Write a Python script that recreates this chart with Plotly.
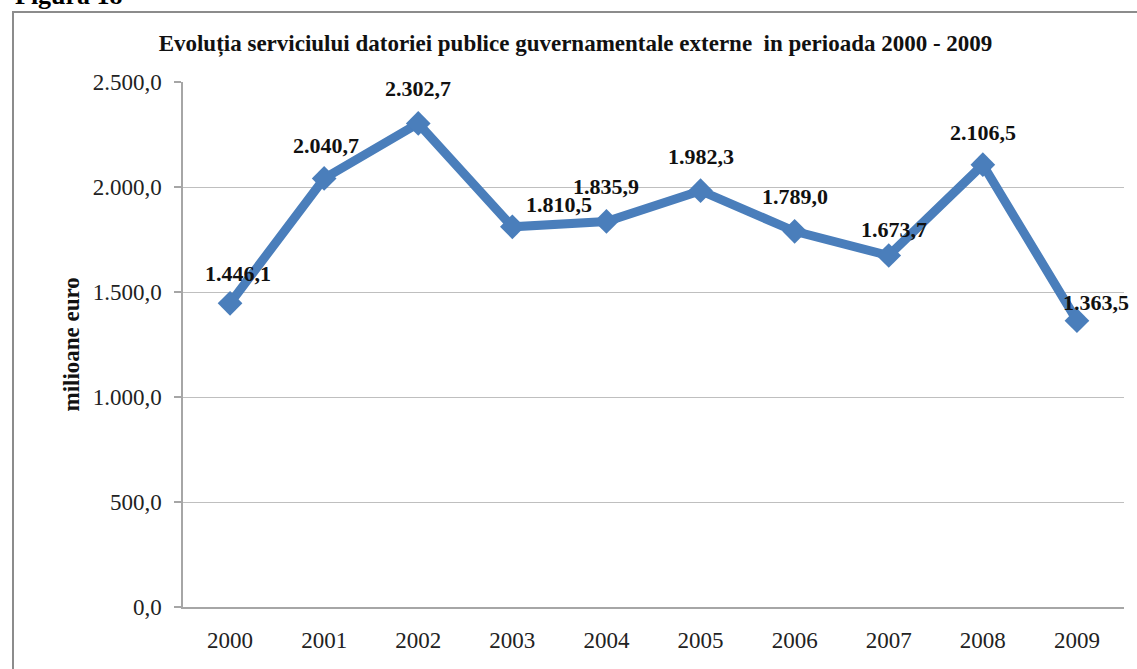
import plotly.graph_objects as go

# Serviciul datoriei publice guvernamentale externe, milioane euro
years = ["2000", "2001", "2002", "2003", "2004", "2005", "2006", "2007", "2008", "2009"]
values = [1446.1, 2040.7, 2302.7, 1810.5, 1835.9, 1982.3, 1789.0, 1673.7, 2106.5, 1363.5]
y_ticks = [0, 500, 1000, 1500, 2000, 2500]

# hand-placed label offsets (px) relative to each point
label_dx = [8, 2, 0, 47, 0, 0, 0, 5, 0, 19]
label_dy = [30, 33, 35, 22, 35, 34, 35, 26, 32, 18]

W, H = 1137, 669
ML, MR, MT, MB = 183, 13, 82, 62
PW, PH = W - ML - MR, H - MT - MB

BLUE = "#4A7EBB"
SERIF = "Liberation Serif, Times New Roman, serif"


def ro(v):
    s = f"{v:,.1f}"
    return s.replace(",", "#").replace(".", ",").replace("#", ".")


def px_x(p):
    return (p - ML) / PW


def px_y(p):
    return (H - MB - p) / PH


fig = go.Figure()
fig.add_trace(go.Scatter(
    x=years, y=values, mode="lines+markers",
    line=dict(color=BLUE, width=9),
    marker=dict(symbol="diamond", size=19, color=BLUE),
    hoverinfo="skip", showlegend=False,
))

annotations = []
for i, (v, dx, dy) in enumerate(zip(values, label_dx, label_dy)):
    annotations.append(dict(
        x=i, y=v, xref="x", yref="y", text=ro(v), showarrow=False,
        xshift=dx, yshift=dy,
        font=dict(family=SERIF, size=22, color="#111111", weight="bold"),
    ))

# axis title
annotations.append(dict(
    x=px_x(56), y=px_y(345), xref="paper", yref="paper",
    text="milioane euro", textangle=-90, showarrow=False,
    font=dict(family=SERIF, size=23, color="#111111", weight="bold"),
))

# figure caption above the chart frame
annotations.append(dict(
    x=px_x(13), y=px_y(12), xref="paper", yref="paper",
    xanchor="left", yanchor="bottom", text="Figura 18", showarrow=False,
    font=dict(family=SERIF, size=26, color="#000000", weight="bold"),
))

fig.update_layout(
    width=W, height=H,
    margin=dict(l=ML, r=MR, t=MT, b=MB, pad=0),
    paper_bgcolor="white", plot_bgcolor="white",
    separators=",.",
    title=dict(
        text="Evoluția serviciului datoriei publice guvernamentale externe\u00a0 in perioada 2000 - 2009",
        x=575.5 / W, xanchor="center", xref="container",
        y=1 - 43 / H, yanchor="middle", yref="container",
        font=dict(family=SERIF, size=23, color="#111111", weight="bold"),
    ),
    xaxis=dict(
        type="category", categoryorder="array", categoryarray=years,
        showline=True, linecolor="#A6A6A6", linewidth=1.5,
        showgrid=False, ticks="", ticklabelstandoff=12,
        tickfont=dict(family=SERIF, size=23, color="#222222"),
        range=[-0.5, len(years) - 0.5],
    ),
    yaxis=dict(
        range=[0, 2500], tickvals=y_ticks, tickformat=",.1f",
        showline=True, linecolor="#A6A6A6", linewidth=1.5,
        showgrid=True, gridcolor="#BFBFBF", gridwidth=1,
        ticks="outside", ticklen=7, tickcolor="#A6A6A6", tickwidth=1.5,
        ticklabelstandoff=8,
        tickfont=dict(family=SERIF, size=23, color="#222222"),
        zeroline=False,
    ),
    annotations=annotations,
    shapes=[dict(
        type="rect", xref="paper", yref="paper", layer="below",
        x0=px_x(13), x1=px_x(W + 10), y0=px_y(H + 10), y1=px_y(12),
        line=dict(color="#8C8C8C", width=2), fillcolor="rgba(0,0,0,0)",
    )],
)

fig.write_html("out.html")
